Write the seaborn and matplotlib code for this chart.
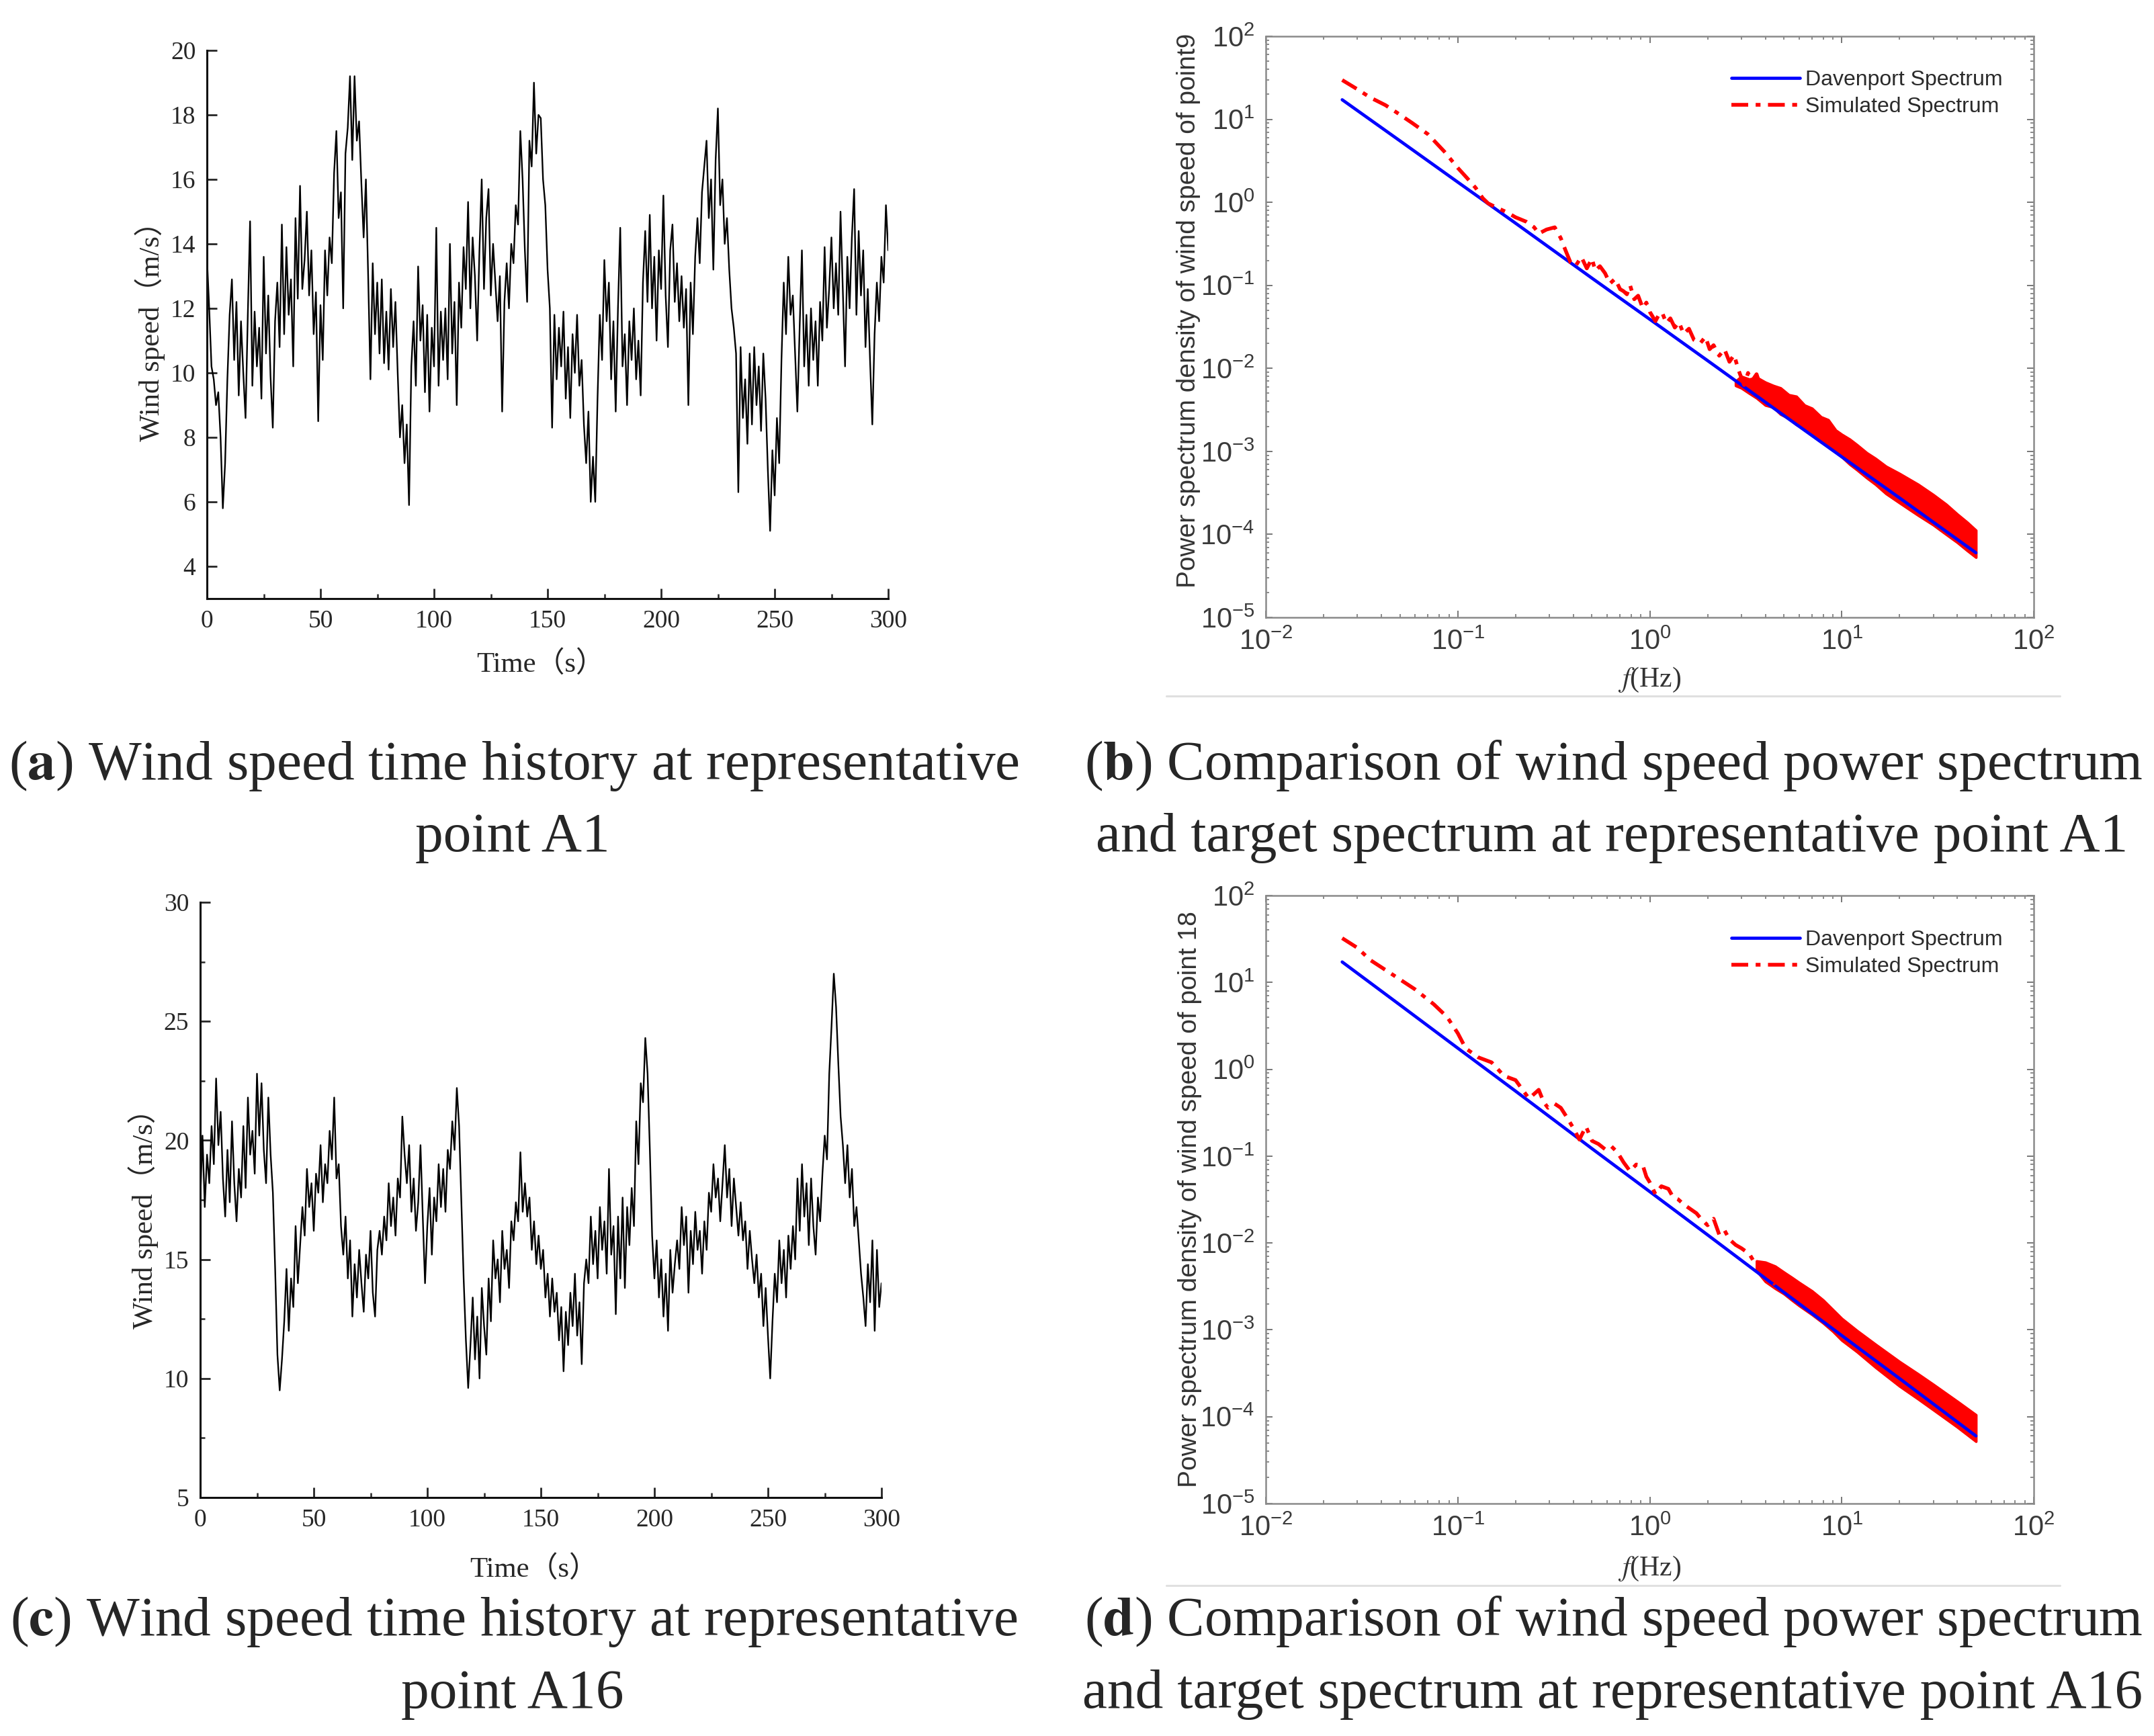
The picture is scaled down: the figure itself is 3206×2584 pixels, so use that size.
import numpy as np
import pandas as pd
import matplotlib
matplotlib.use('Agg')
import matplotlib.pyplot as plt
import seaborn as sns
from matplotlib.lines import Line2D
from matplotlib.ticker import MultipleLocator, LogLocator, FuncFormatter, NullFormatter

# Data ==========================================================================
# wind speed time history at point A1 (m/s), one value per second, t = 0..300 s
speed_a1 = [
    13.6, 12.0, 10.2, 9.8, 9.0, 9.4, 8.0, 5.8, 7.2, 9.8,
    11.8, 12.9, 10.4, 12.2, 9.3, 11.6, 10.0, 8.6, 11.8, 14.7,
    9.6, 11.9, 10.2, 11.4, 9.2, 13.6, 10.6, 12.4, 9.9, 8.3,
    11.6, 12.8, 10.8, 14.6, 11.2, 13.9, 11.8, 12.9, 10.2, 14.8,
    12.3, 15.8, 12.6, 13.5, 15.0, 12.4, 13.8, 11.2, 12.5, 8.5,
    12.1, 10.4, 13.8, 12.4, 14.2, 13.4, 16.2, 17.5, 14.8, 15.6,
    12.0, 16.8, 17.6, 19.2, 16.6, 19.2, 17.2, 17.8, 15.9, 14.2,
    16.0, 13.0, 9.8, 13.4, 11.2, 12.8, 10.6, 12.9, 10.3, 11.9,
    10.1, 12.6, 10.8, 12.2, 10.0, 8.0, 9.0, 7.2, 8.4, 5.9,
    10.2, 11.6, 9.6, 13.3, 11.0, 12.1, 9.4, 11.8, 8.8, 11.4,
    10.2, 14.5, 9.6, 11.9, 10.4, 12.0, 9.8, 14.0, 10.6, 12.2,
    9.0, 12.8, 11.4, 13.9, 12.6, 15.3, 12.0, 14.2, 13.0, 11.0,
    13.8, 16.0, 12.6, 14.8, 15.7, 12.4, 14.0, 12.8, 11.6, 13.0,
    8.8, 12.2, 13.4, 12.0, 14.0, 13.4, 15.2, 14.6, 17.5, 16.0,
    13.8, 12.2, 17.2, 16.4, 19.0, 16.8, 18.0, 17.9, 16.0, 15.2,
    13.2, 12.0, 8.3, 11.8, 9.8, 11.4, 10.2, 11.9, 9.2, 10.8,
    8.6, 11.2, 10.0, 11.8, 9.6, 10.4, 8.4, 7.2, 8.8, 6.0,
    7.4, 6.0, 9.2, 11.8, 10.4, 13.5, 11.6, 12.8, 9.8, 11.6,
    8.8, 12.0, 14.5, 10.2, 11.2, 9.0, 11.6, 10.4, 12.0, 9.8,
    11.0, 9.3, 12.8, 14.4, 12.2, 14.9, 12.0, 13.6, 11.0, 13.8,
    12.6, 15.5, 12.4, 10.8, 13.8, 14.6, 12.2, 13.4, 11.6, 13.0,
    11.4, 12.6, 9.0, 12.8, 11.2, 13.6, 14.8, 13.4, 15.6, 16.4,
    17.2, 14.8, 16.0, 13.2, 16.6, 18.2, 15.2, 16.0, 14.0, 14.8,
    13.2, 12.0, 11.4, 10.6, 6.3, 10.8, 8.6, 9.8, 7.8, 10.6,
    8.4, 10.8, 9.0, 10.2, 8.2, 10.6, 9.2, 7.0, 5.1, 7.6,
    6.2, 8.6, 7.2, 10.4, 12.8, 11.2, 13.6, 11.8, 12.4, 10.6,
    8.8, 11.4, 13.8, 10.2, 11.8, 9.6, 12.0, 10.4, 11.6, 9.6,
    12.2, 11.0, 13.9, 11.4, 12.6, 14.2, 12.0, 13.4, 11.8, 15.0,
    12.6, 10.2, 13.6, 12.0, 14.2, 15.7, 11.8, 14.4, 12.4, 13.8,
    10.8, 12.6, 10.4, 8.4, 11.2, 12.8, 11.6, 13.6, 12.8, 15.2,
    13.8,
]

# wind speed time history at point A16 (m/s), one value per second
speed_a16 = [
    17.4, 20.2, 17.2, 19.4, 18.2, 20.6, 19.0, 22.6, 19.8, 21.2,
    18.4, 16.8, 19.6, 17.4, 20.8, 18.2, 16.6, 18.8, 17.6, 20.6,
    18.0, 21.8, 19.4, 20.4, 18.6, 22.8, 20.2, 22.4, 19.6, 18.2,
    21.8, 19.4, 17.8, 14.6, 11.0, 9.5, 10.8, 12.4, 14.6, 12.0,
    14.2, 13.0, 16.4, 14.0, 15.6, 17.2, 16.0, 18.8, 17.2, 18.2,
    16.2, 18.6, 17.8, 19.8, 17.4, 19.0, 18.2, 20.4, 19.2, 21.8,
    18.4, 19.0, 16.4, 15.2, 16.8, 14.2, 15.8, 12.6, 14.8, 13.4,
    15.4, 14.0, 12.8, 15.2, 14.2, 16.2, 13.6, 12.6, 15.4, 16.2,
    15.2, 16.8, 15.8, 18.2, 16.4, 17.6, 16.0, 18.4, 17.6, 21.0,
    19.4, 18.2, 19.8, 17.0, 18.4, 16.2, 17.4, 19.8, 16.8, 14.0,
    16.4, 18.0, 15.2, 17.6, 16.6, 19.0, 17.2, 18.8, 17.0, 19.6,
    18.8, 20.8, 19.6, 22.2, 20.6, 17.4, 14.2, 11.6, 9.6, 11.4,
    13.4, 10.8, 12.6, 10.0, 13.8, 12.2, 11.0, 14.2, 12.4, 15.8,
    14.2, 15.0, 13.2, 16.2, 14.6, 15.4, 13.8, 16.6, 15.8, 17.4,
    16.6, 19.5, 17.0, 18.2, 16.8, 17.6, 15.4, 16.6, 14.8, 16.0,
    14.6, 15.4, 13.4, 14.4, 12.6, 14.2, 12.8, 13.6, 11.6, 13.0,
    10.3, 12.8, 11.4, 13.6, 12.2, 14.4, 11.8, 13.2, 10.6, 14.0,
    15.0, 14.0, 16.8, 14.8, 16.2, 14.2, 17.2, 15.4, 16.6, 14.4,
    18.8, 15.2, 16.4, 12.7, 16.8, 14.2, 17.6, 13.8, 17.2, 15.6,
    18.0, 16.4, 20.8, 19.0, 22.4, 21.6, 24.3, 22.8, 19.6, 16.0,
    14.2, 15.8, 13.4, 15.0, 12.6, 14.4, 12.0, 15.4, 13.6, 14.8,
    15.8, 14.6, 17.2, 15.6, 16.8, 13.6, 16.2, 14.8, 17.0, 15.4,
    16.2, 14.4, 16.6, 15.4, 17.8, 17.0, 19.0, 17.6, 18.4, 16.6,
    18.2, 19.8, 17.6, 18.8, 16.4, 18.4, 17.2, 16.0, 17.4, 15.8,
    16.6, 14.6, 16.2, 15.0, 14.0, 15.2, 13.4, 14.4, 12.2, 13.8,
    11.8, 10.0, 12.4, 14.4, 13.2, 15.8, 14.0, 15.4, 13.4, 16.0,
    14.6, 16.4, 15.0, 18.4, 16.2, 19.0, 16.8, 18.2, 15.6, 18.4,
    16.4, 15.2, 17.6, 16.6, 18.6, 20.2, 19.2, 22.8, 24.8, 27.0,
    25.6, 23.2, 21.0, 19.8, 18.2, 19.8, 17.6, 18.8, 16.4, 17.2,
    15.8, 14.4, 13.4, 12.2, 14.8, 13.2, 15.8, 12.0, 15.4, 13.0,
    14.0,
]
time_s = np.arange(len(speed_a1))

# Davenport target spectrum (same target for both points)
dav_freq = [0.025, 0.05, 0.1, 0.2, 0.5, 1, 2, 5, 10, 20, 50]
dav_psd = [17.2, 5.5, 1.75, 0.56, 0.122, 0.039, 0.0124, 0.0027, 8.6e-4, 2.75e-4, 6.0e-5]

# simulated spectrum, point A1: low / mid frequencies
sim_freq_a1 = [0.025, 0.03, 0.035, 0.042, 0.048, 0.058, 0.07, 0.085, 0.1, 0.112,
               0.124, 0.135, 0.144, 0.16, 0.18, 0.2, 0.227, 0.25, 0.264, 0.29,
               0.32, 0.344, 0.365, 0.386, 0.41, 0.44, 0.47, 0.5, 0.52, 0.55,
               0.585, 0.62, 0.66, 0.7, 0.73, 0.76, 0.79, 0.83, 0.87, 0.92,
               0.96, 1.0, 1.07, 1.12, 1.16, 1.22, 1.28, 1.35, 1.42, 1.5,
               1.6, 1.7, 1.83, 1.95, 2.05, 2.15, 2.3, 2.45, 2.6, 2.75,
               2.9, 3.1, 3.25, 3.4, 3.6, 3.8, 4.0, 4.2, 4.5, 4.8]
sim_psd_a1 = [29.7, 23.0, 18.3, 14.8, 12.1, 9.0, 6.6, 4.1, 2.6, 1.95,
              1.49, 1.12, 0.97, 0.86, 0.76, 0.66, 0.585, 0.50, 0.42, 0.47,
              0.50, 0.37, 0.26, 0.19, 0.17, 0.22, 0.16, 0.21, 0.15, 0.17,
              0.14, 0.105, 0.12, 0.09, 0.085, 0.078, 0.10, 0.068, 0.075, 0.053,
              0.062, 0.048, 0.037, 0.045, 0.047, 0.035, 0.040, 0.031, 0.036, 0.026,
              0.030, 0.022, 0.020, 0.024, 0.017, 0.019, 0.0142, 0.017, 0.012, 0.0145,
              0.0095, 0.0063, 0.0088, 0.0070, 0.0085, 0.0058, 0.0072, 0.0048, 0.0060, 0.0040]
# high frequencies: the dense scatter reads as a band (upper / lower edge)
band_freq_a1 = [2.8, 3.0, 3.3, 3.6, 4.0, 4.4, 4.8, 5.3, 5.8, 6.4, 7.0, 7.8, 8.5, 9.3,
                10, 11, 12, 13.5, 15, 17, 20, 25, 30, 35, 40, 45, 50]
band_hi_a1 = [0.0070, 0.0080, 0.0074, 0.0078, 0.0068, 0.0062, 0.0058, 0.0048, 0.0046,
              0.0036, 0.0033, 0.0026, 0.0024, 0.0018, 0.0016, 0.0014, 0.0012, 9.6e-4,
              8.2e-4, 6.6e-4, 5.4e-4, 4.0e-4, 3.0e-4, 2.3e-4, 1.75e-4, 1.4e-4, 1.12e-4]
band_lo_a1 = [0.0062, 0.0058, 0.0050, 0.0044, 0.0036, 0.0034, 0.0028, 0.0025, 0.0021,
              0.0019, 0.0016, 0.0013, 0.0012, 9.8e-4, 8.6e-4, 7.0e-4, 6.0e-4, 4.8e-4,
              4.0e-4, 3.1e-4, 2.4e-4, 1.7e-4, 1.3e-4, 1.0e-4, 8.0e-5, 6.4e-5, 5.3e-5]

# simulated spectrum, point A16
sim_freq_a16 = [0.025, 0.03, 0.035, 0.045, 0.06, 0.075, 0.088, 0.1, 0.11, 0.128,
                0.15, 0.174, 0.2, 0.22, 0.235, 0.264, 0.28, 0.295, 0.32, 0.344,
                0.37, 0.4, 0.43, 0.465, 0.5, 0.54, 0.585, 0.63, 0.68, 0.73,
                0.79, 0.85, 0.92, 0.96, 1.0, 1.07, 1.15, 1.25, 1.32, 1.4,
                1.5, 1.57, 1.75, 1.85, 2.0, 2.15, 2.3, 2.45, 2.6, 2.8,
                3.0, 3.3, 3.6, 4.0, 4.5]
sim_psd_a16 = [32.3, 25.0, 18.1, 12.6, 8.3, 5.6, 4.0, 2.6, 1.74, 1.37,
               1.2, 0.84, 0.75, 0.56, 0.46, 0.58, 0.42, 0.36, 0.40, 0.36,
               0.28, 0.21, 0.155, 0.22, 0.15, 0.138, 0.12, 0.13, 0.11, 0.085,
               0.067, 0.08, 0.078, 0.058, 0.05, 0.0365, 0.045, 0.042, 0.034, 0.032,
               0.028, 0.026, 0.022, 0.019, 0.016, 0.019, 0.0125, 0.014, 0.011, 0.0095,
               0.0087, 0.0075, 0.0054, 0.0046, 0.0033]
band_freq_a16 = [3.6, 4.0, 4.5, 5.0, 5.5, 6.0, 7.0, 8.0, 9.0, 10, 12, 15, 20, 25, 30, 40, 50]
band_hi_a16 = [0.0062, 0.0060, 0.0054, 0.0046, 0.0040, 0.0035, 0.0028, 0.0022, 0.0017,
               0.00135, 0.00098, 6.8e-4, 4.3e-4, 3.1e-4, 2.35e-4, 1.5e-4, 1.05e-4]
band_lo_a16 = [0.0048, 0.0036, 0.0030, 0.0026, 0.0022, 0.0019, 0.0015, 0.0012, 9.6e-4,
               7.6e-4, 5.6e-4, 3.7e-4, 2.25e-4, 1.6e-4, 1.2e-4, 7.6e-5, 5.2e-5]

# Style =========================================================================
sns.set_style('ticks')
plt.rcParams['mathtext.fontset'] = 'stix'
SERIF = ['Liberation Serif', 'Noto Sans CJK SC']
SANS = ['Liberation Sans', 'DejaVu Sans']

W, H, DPI = 3206, 2584, 200
fig = plt.figure(figsize=(W / DPI, H / DPI), dpi=DPI)
fig.patch.set_facecolor('white')


def px_axes(l, t, r, b):
    return fig.add_axes([l / W, 1 - b / H, (r - l) / W, (b - t) / H])


# Time history panels ===========================================================
def draw_history(ax, speed, ylim, ymajor, yminor, ylab_pos, xlab_y):
    df = pd.DataFrame({'t': time_s, 'v': speed})
    sns.lineplot(data=df, x='t', y='v', ax=ax, color='black',
                 linewidth=0.85, estimator=None, sort=False)
    ax.set_xlim(0, 300)
    ax.set_ylim(*ylim)
    ax.xaxis.set_major_locator(MultipleLocator(50))
    ax.xaxis.set_minor_locator(MultipleLocator(25))
    ax.yaxis.set_major_locator(MultipleLocator(ymajor))
    if yminor:
        ax.yaxis.set_minor_locator(MultipleLocator(yminor))
    for side in ['top', 'right']:
        ax.spines[side].set_visible(False)
    for side in ['left', 'bottom']:
        ax.spines[side].set_linewidth(1.1)
        ax.spines[side].set_color('#111111')
    ax.tick_params(which='major', direction='in', length=5.5, width=1.0,
                   labelsize=13.5, pad=6, labelfontfamily=SERIF)
    ax.tick_params(which='minor', direction='in', length=2.5, width=0.9)
    ax.set_ylabel('Wind speed（m/s）', fontsize=15.4, family=SERIF, va='center')
    ax.set_xlabel('Time（s）', fontsize=15.4, family=SERIF, va='center')
    ax.yaxis.set_label_coords(ylab_pos[0], ylab_pos[1])
    ax.xaxis.set_label_coords(0.49, xlab_y)


ax_a = px_axes(308, 75, 1322, 891)
draw_history(ax_a, speed_a1, (3, 20), 2, None, (-0.084, 0.5), -0.119)

ax_c = px_axes(298, 1343, 1312, 2229)
draw_history(ax_c, speed_a16, (5, 30), 5, 2.5, (-0.084, 0.48), -0.12)


# Spectrum panels ===============================================================
def decade_label(v, pos):
    return r'$\mathregular{10^{%d}}$' % int(round(np.log10(v)))


def draw_spectrum(ax, sim_f, sim_s, band_f, band_hi, band_lo, ylabel, ylab_pos, xlab_y):
    ax.set(xscale='log', yscale='log')
    sns.lineplot(x=dav_freq, y=dav_psd, ax=ax, color='#0000ff', linewidth=1.7,
                 estimator=None, sort=False, label='Davenport Spectrum')
    sns.lineplot(x=sim_f, y=sim_s, ax=ax, color='#ff0000', linewidth=2.0,
                 estimator=None, sort=False, label='Simulated Spectrum')
    ax.lines[-1].set_dashes([4.5, 2.0, 1.3, 2.0])
    ax.fill_between(band_f, band_lo, band_hi, color='#ff0000', lw=1.4,
                    edgecolor='#ff0000')
    ax.set_xlim(1e-2, 1e2)
    ax.set_ylim(1e-5, 1e2)
    ax.xaxis.set_major_locator(LogLocator(base=10, numticks=10))
    ax.yaxis.set_major_locator(LogLocator(base=10, numticks=10))
    ax.xaxis.set_minor_locator(LogLocator(base=10, subs=np.arange(2, 10), numticks=20))
    ax.yaxis.set_minor_locator(LogLocator(base=10, subs=np.arange(2, 10), numticks=20))
    ax.xaxis.set_major_formatter(FuncFormatter(decade_label))
    ax.yaxis.set_major_formatter(FuncFormatter(decade_label))
    ax.xaxis.set_minor_formatter(NullFormatter())
    ax.yaxis.set_minor_formatter(NullFormatter())
    for side in ax.spines:
        ax.spines[side].set_visible(True)
        ax.spines[side].set_color('#8a8a8a')
        ax.spines[side].set_linewidth(0.9)
    ax.tick_params(which='both', direction='in', top=True, right=True,
                   color='#777777')
    ax.tick_params(which='major', length=3.5, width=0.7, labelsize=15,
                   labelcolor='#3a3a3a', pad=6, labelfontfamily=SANS)
    ax.tick_params(which='minor', length=1.8, width=0.6)
    ax.set_ylabel(ylabel, fontsize=14, family=SANS, color='#333333', va='center')
    ax.set_xlabel(r'$f$(Hz)', fontsize=15, family='Liberation Serif',
                  color='#333333', va='center')
    ax.yaxis.set_label_coords(ylab_pos[0], ylab_pos[1])
    ax.xaxis.set_label_coords(0.5, xlab_y)
    leg = ax.legend(loc='upper right', bbox_to_anchor=(0.985, 0.975), frameon=False,
                    handlelength=3.2, handletextpad=0.25, labelspacing=0.3,
                    prop={'family': SANS, 'size': 11.5})
    for txt in leg.get_texts():
        txt.set_color('#2a2a2a')


ax_b = px_axes(1884, 54, 3027, 919)
draw_spectrum(ax_b, sim_freq_a1, sim_psd_a1, band_freq_a1, band_hi_a1, band_lo_a1,
              'Power spectrum density of wind speed of point9', (-0.101, 0.528), -0.1075)

ax_d = px_axes(1884, 1333, 3027, 2238)
draw_spectrum(ax_d, sim_freq_a16, sim_psd_a16, band_freq_a16, band_hi_a16, band_lo_a16,
              'Power spectrum density of wind speed of point 18', (-0.099, 0.5), -0.107)

# thin grey separators under the spectrum panels
for y_px in [1036, 2360]:
    fig.add_artist(Line2D([1736 / W, 3066 / W], [1 - y_px / H] * 2,
                          color='#e0e0e0', linewidth=1.1))

# Captions (bold panel letter via mathtext, one text per line) ==================
CAP_SIZE = 30
captions = [
    (r'($\mathbf{a}$) Wind speed time history at representative', 765, 1140),
    ('point A1', 763, 1247),
    (r'($\mathbf{b}$) Comparison of wind speed power spectrum', 2402, 1140),
    ('and target spectrum at representative point A1', 2399, 1247),
    (r'($\mathbf{c}$) Wind speed time history at representative', 765, 2414),
    ('point A16', 763, 2522),
    (r'($\mathbf{d}$) Comparison of wind speed power spectrum', 2402, 2414),
    ('and target spectrum at representative point A16', 2400, 2522),
]
for text, xc, yc in captions:
    fig.text(xc / W, 1 - yc / H, text, fontsize=CAP_SIZE, family='Liberation Serif',
             ha='center', va='center')

fig.savefig('out.png', dpi=DPI, facecolor='white')
